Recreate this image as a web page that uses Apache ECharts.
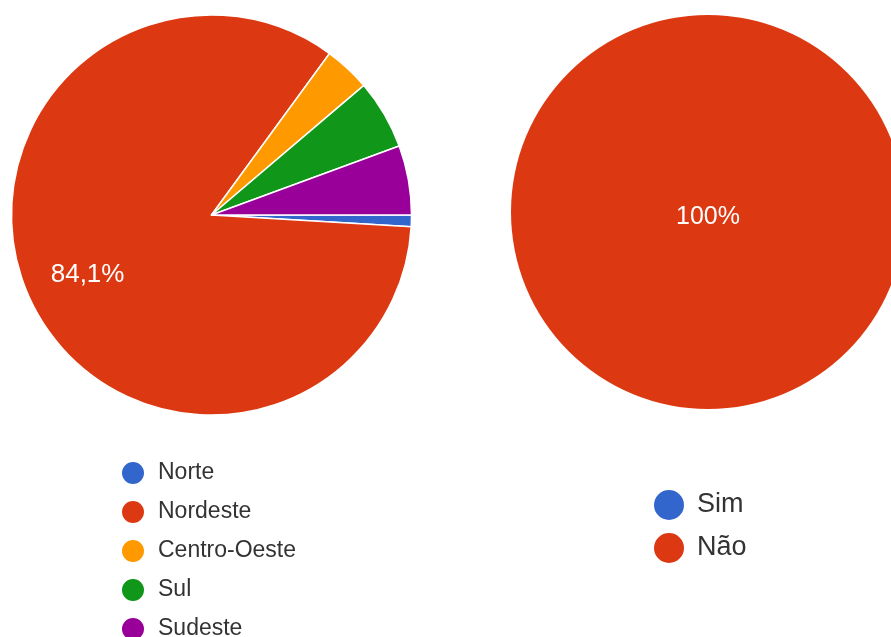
<!DOCTYPE html>
<html>
<head>
<meta charset="utf-8">
<script src="https://cdn.jsdelivr.net/npm/echarts@6/dist/echarts.min.js"></script>
<style>
html,body{margin:0;padding:0;background:#fff;}
#c{width:891px;height:637px;}
</style>
</head>
<body>
<div id="c"></div>
<script>
// Data
const regions = ['Norte', 'Nordeste', 'Centro-Oeste', 'Sul', 'Sudeste'];
const regionCounts = [1, 90, 4, 6, 6];
const regionColors = ['#3366cc', '#dc3912', '#ff9900', '#109618', '#990099'];

const answers = ['Sim', 'Não'];
const answerCounts = [0, 107];
const answerColors = ['#3366cc', '#dc3912'];

const FONT = '"Liberation Sans", Arial, Helvetica, sans-serif';

function pctLabel(p) {
  if (p.percent < 10) return '';
  return String(+p.percent.toFixed(1)).replace('.', ',') + '%';
}

const regionData = regions.map((n, i) => ({ name: n, value: regionCounts[i], itemStyle: { color: regionColors[i] } }));
const answerData = answers.map((n, i) => ({ name: n, value: answerCounts[i], itemStyle: { color: answerColors[i] } }));

const chart = echarts.init(document.getElementById('c'), null, { renderer: 'canvas' });
chart.setOption({
  animation: false,
  backgroundColor: '#ffffff',
  legend: [
    {
      orient: 'vertical',
      left: 115,
      top: 455,
      height: 220,
      icon: 'circle',
      itemWidth: 24,
      itemHeight: 24,
      itemGap: 13,
      selectedMode: false,
      data: regions,
      textStyle: { fontFamily: FONT, fontSize: 23, lineHeight: 24, color: '#333333', padding: [0, 0, 0, 8] }
    },
    {
      orient: 'vertical',
      left: 649,
      top: 485,
      height: 140,
      icon: 'circle',
      itemWidth: 30,
      itemHeight: 30,
      itemGap: 13,
      selectedMode: false,
      data: answers,
      textStyle: { fontFamily: FONT, fontSize: 27, lineHeight: 30, color: '#333333', padding: [0, 0, 0, 8] }
    }
  ],
  series: [
    {
      name: 'Região',
      type: 'pie',
      center: [211.5, 215],
      radius: [0, 200],
      startAngle: 0,
      clockwise: true,
      label: { show: false },
      labelLine: { show: false },
      itemStyle: { borderColor: '#ffffff', borderWidth: 1.5 },
      emphasis: { disabled: true },
      data: regionData
    },
    {
      name: 'RegiãoLabels',
      type: 'pie',
      silent: true,
      center: [211.5, 215],
      radius: [68, 200],
      startAngle: 0,
      clockwise: true,
      itemStyle: { color: 'rgba(0,0,0,0)', borderWidth: 0 },
      label: {
        show: true,
        position: 'inside',
        formatter: pctLabel,
        color: '#ffffff',
        fontFamily: FONT,
        fontSize: 26,
        offset: [0, 1]
      },
      labelLine: { show: false },
      emphasis: { disabled: true },
      data: regions.map((n, i) => ({ name: n, value: regionCounts[i] }))
    },
    {
      name: 'Resposta',
      type: 'pie',
      center: [708, 212],
      radius: [0, 197],
      startAngle: 90,
      label: {
        show: true,
        position: 'center',
        formatter: pctLabel,
        color: '#ffffff',
        fontFamily: FONT,
        fontSize: 25,
        offset: [0, 5]
      },
      labelLine: { show: false },
      itemStyle: { borderWidth: 0 },
      emphasis: { disabled: true },
      data: answerData
    }
  ]
});
</script>
</body>
</html>
